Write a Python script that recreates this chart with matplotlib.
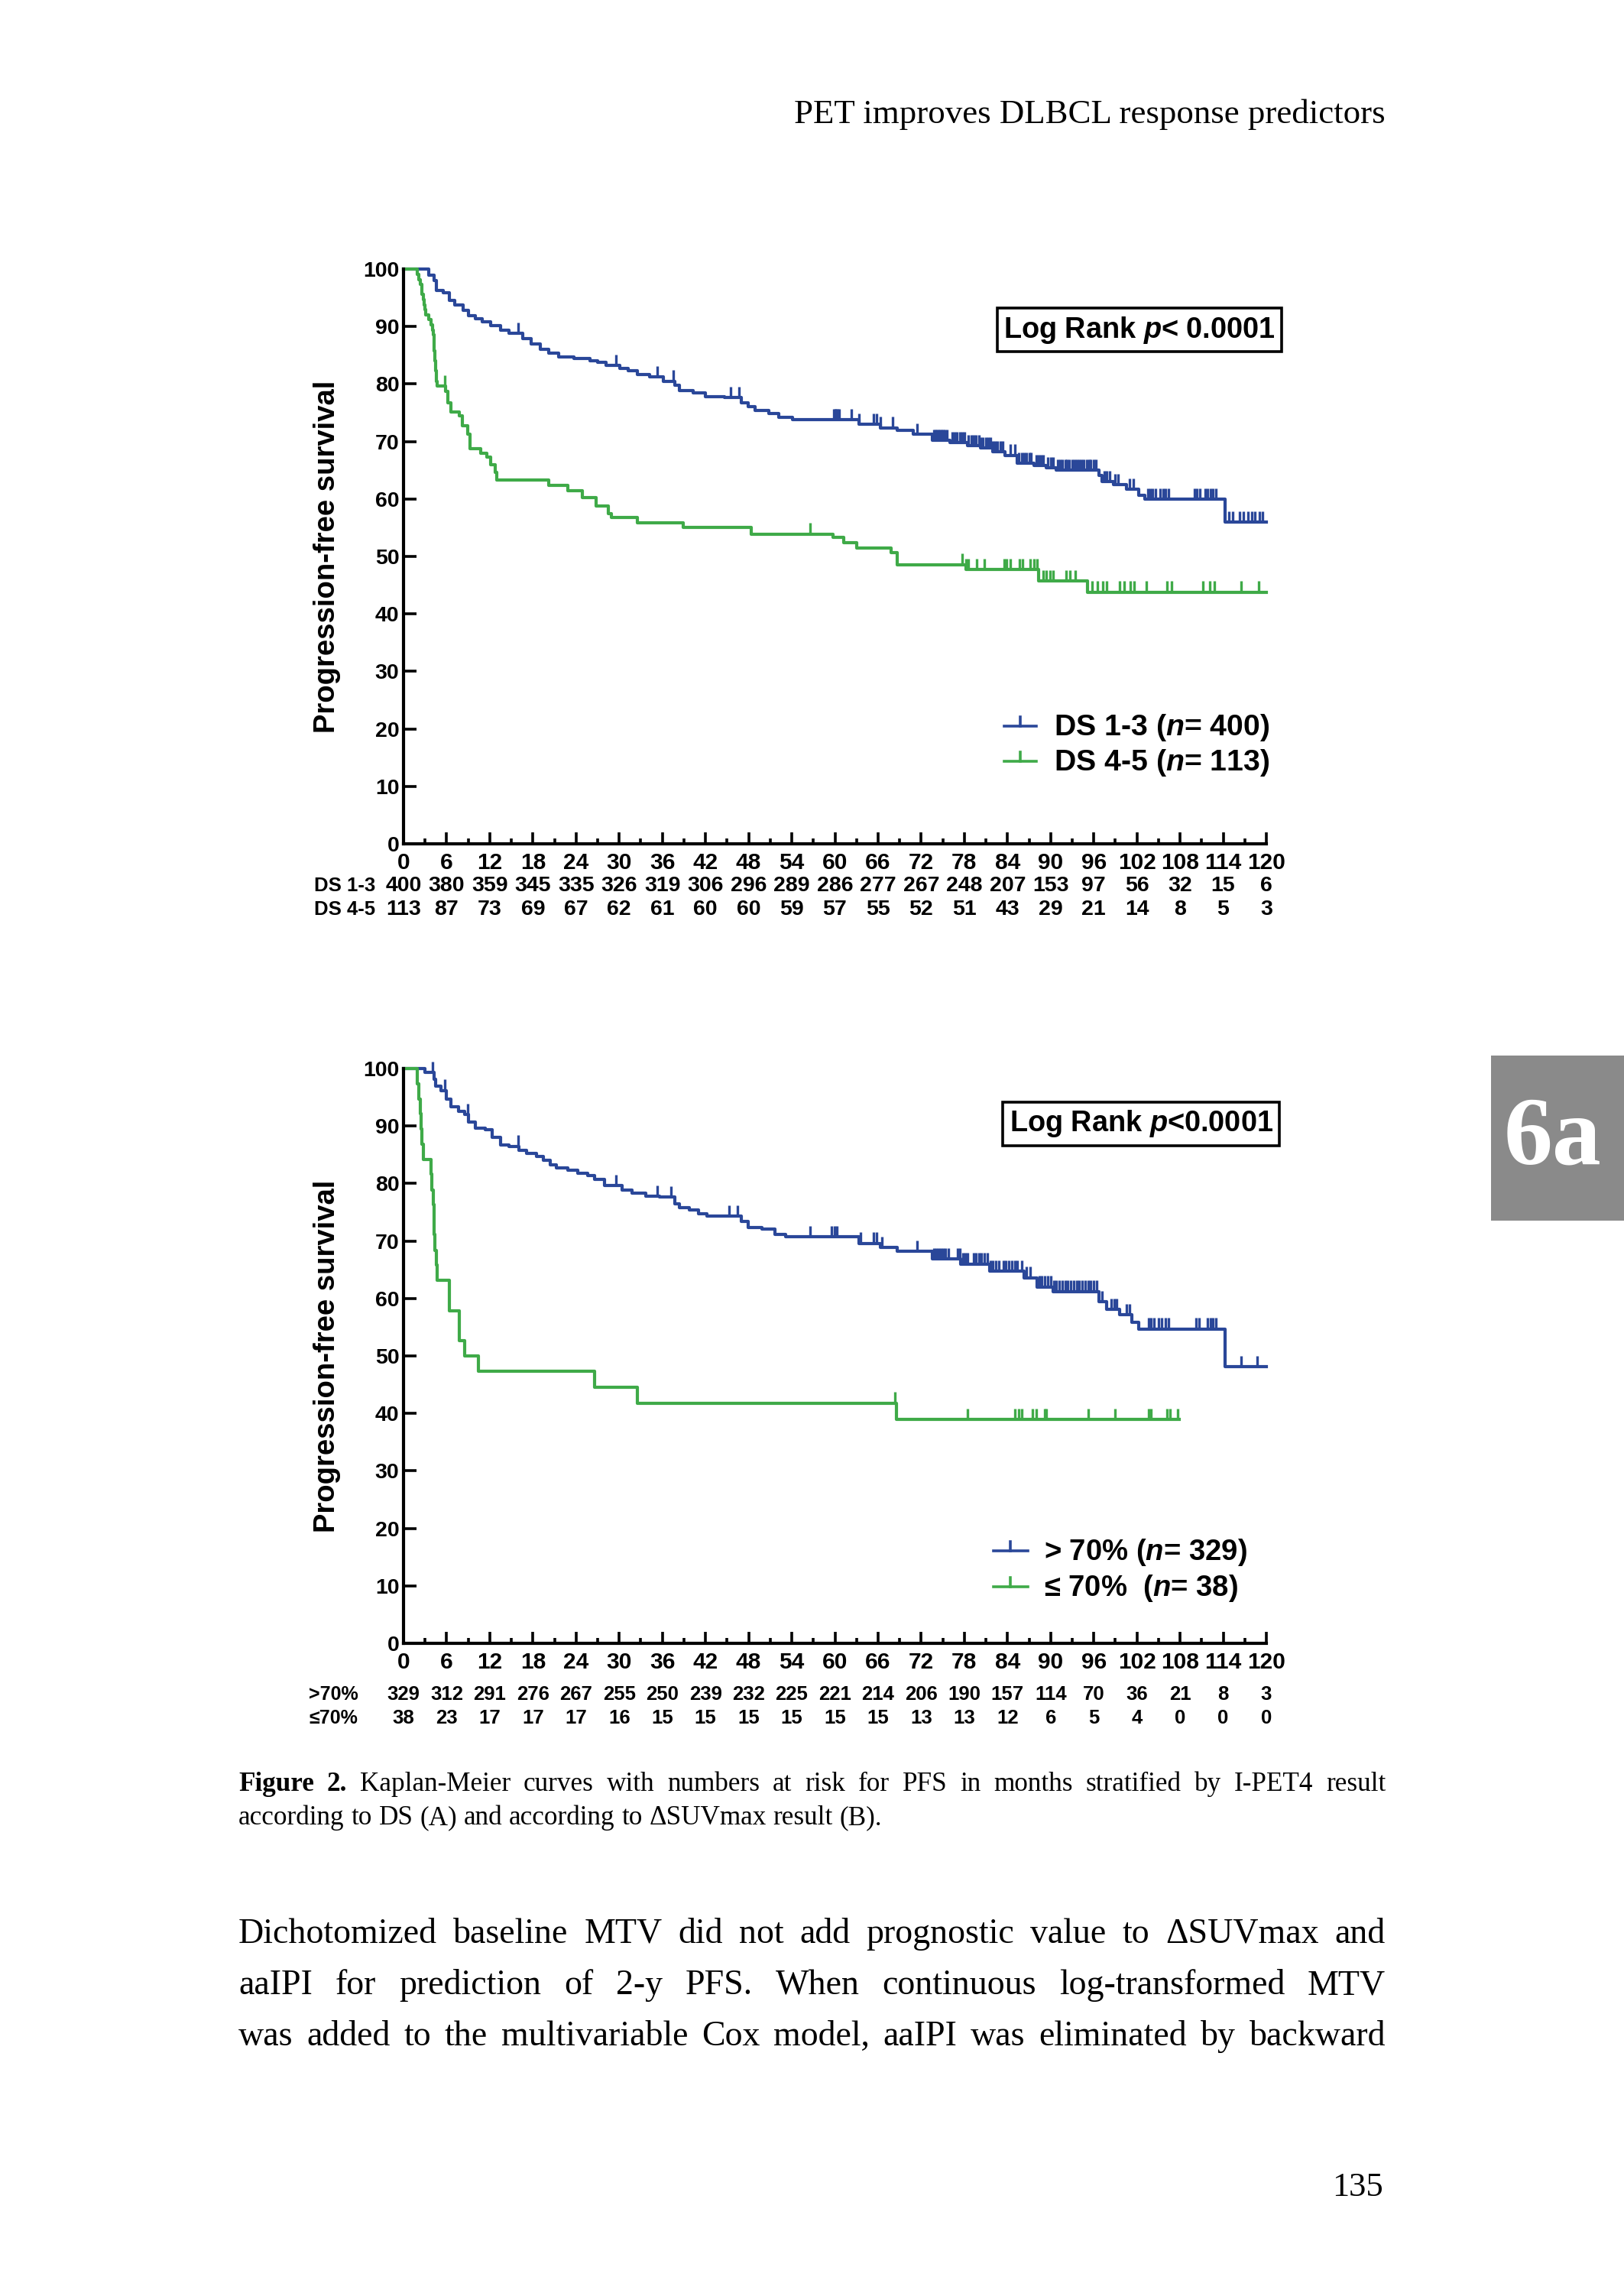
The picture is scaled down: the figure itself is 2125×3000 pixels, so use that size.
import numpy as np
import matplotlib
matplotlib.use('Agg')
import matplotlib.pyplot as plt
from matplotlib.lines import Line2D
from matplotlib.legend_handler import HandlerBase
from matplotlib.patches import Rectangle
from matplotlib import font_manager
import matplotlib.transforms as mtransforms

# ---------------------------------------------------------------- data
months = [0, 6, 12, 18, 24, 30, 36, 42, 48, 54, 60, 66, 72, 78, 84, 90, 96, 102, 108, 114, 120]
minor_months = [3, 9, 15, 21, 27, 33, 39, 45, 51, 57, 63, 69, 75, 81, 87, 93, 99, 105, 111, 117]
y_ticks = [0, 10, 20, 30, 40, 50, 60, 70, 80, 90, 100]

# numbers at risk
risk_ds13 = [400, 380, 359, 345, 335, 326, 319, 306, 296, 289, 286, 277, 267, 248, 207, 153, 97, 56, 32, 15, 6]
risk_ds45 = [113, 87, 73, 69, 67, 62, 61, 60, 60, 59, 57, 55, 52, 51, 43, 29, 21, 14, 8, 5, 3]
risk_gt70 = [329, 312, 291, 276, 267, 255, 250, 239, 232, 225, 221, 214, 206, 190, 157, 114, 70, 36, 21, 8, 3]
risk_le70 = [38, 23, 17, 17, 17, 16, 15, 15, 15, 15, 15, 15, 13, 13, 12, 6, 5, 4, 0, 0, 0]

# Panel A - DS 1-3 (steps: time, survival after step)
ds13_t = [0, 3.5, 4.3, 4.6, 5.5, 6.4, 7.1, 8.3, 9.0, 10.0, 10.9, 12.1, 13.5, 14.7, 16.6, 17.8, 19.0, 20.2,
          21.6, 23.7, 25.9, 27.0, 28.2, 30.1, 31.3, 32.5, 34.2, 36.1, 37.7, 38.4, 40.3, 42.0, 44.6, 47.0,
          47.9, 48.9, 50.8, 52.2, 54.1, 63.4, 66.3, 68.7, 70.9, 73.5, 76.0, 78.4, 80.2, 81.9, 83.7, 85.4,
          87.7, 89.4, 90.8, 96.7, 97.1, 98.7, 100.5, 102.2, 103.1, 114.3]
ds13_s = [100, 99.0, 98.0, 96.3, 95.9, 94.6, 93.7, 92.8, 91.9, 91.3, 90.8, 90.1, 89.4, 88.8, 87.9, 87.0, 86.1,
          85.4, 84.7, 84.4, 84.1, 83.8, 83.2, 82.7, 82.3, 81.7, 81.2, 80.5, 79.8, 78.9, 78.5, 77.8, 77.6,
          76.7, 76.0, 75.4, 74.9, 74.2, 73.8, 73.0, 72.4, 71.9, 71.3, 70.2, 69.8, 69.3, 68.9, 68.2, 67.6,
          66.2, 65.8, 65.4, 65.0, 64.1, 63.0, 62.5, 61.7, 60.6, 60.0, 56.0]
ds13_end = 120
ds13_cens = [15.9, 29.6, 35.3, 37.5, 45.5, 46.7, 59.8, 60.0, 60.2, 60.4, 60.6, 62.3, 63.4, 65.4, 65.8, 66.3,
             68.0, 71.4, 73.8, 74.0, 74.2, 74.4, 74.6, 74.8, 75.0, 75.3, 75.6, 76.3, 76.6, 77.0, 77.4, 77.7,
             78.0, 78.6, 79.0, 79.3, 79.6, 80.0, 80.3, 80.6, 81.0, 81.3, 81.6, 82.0, 82.3, 82.6, 83.0, 83.3,
             84.4, 85.0, 85.6, 86.0, 86.3, 86.6, 87.0, 87.3, 88.0, 88.3, 88.6, 89.0, 89.6, 90.0, 90.3, 91.0,
             91.3, 91.6, 92.0, 92.3, 92.6, 93.0, 93.3, 93.6, 94.0, 94.3, 94.6, 95.0, 95.3, 95.6, 96.0, 96.3,
             97.5, 97.8, 98.2, 99.0, 99.4, 101.0, 101.5, 103.5, 103.8, 104.2, 104.6, 105.2, 105.6, 106.0,
             106.4, 110.0, 110.3, 110.7, 111.5, 111.8, 112.2, 112.6, 113.0, 114.8, 115.3, 116.3, 116.8,
             117.4, 118.0, 118.4, 119.0, 119.5]

# Panel A - DS 4-5
ds45_t = [0, 1.9, 2.1, 2.3, 2.5, 2.6, 2.75, 2.9, 3.0, 3.1, 3.5, 3.8, 4.0, 4.1, 4.2, 4.25, 4.3, 4.35, 4.4,
          4.45, 4.5, 4.55, 4.6, 4.7, 5.8, 6.2, 6.6, 7.8, 8.2, 8.9, 9.2, 10.7, 11.6, 12.1, 12.8, 13.0, 20.2,
          22.8, 24.9, 26.8, 28.5, 28.9, 32.5, 38.9, 48.4, 59.7, 61.2, 63.0, 67.8, 68.7, 78.2, 88.3, 95.1]
ds45_s = [100, 99.1, 98.2, 97.3, 96.5, 95.6, 94.7, 93.8, 92.9, 92.0, 91.2, 90.3, 89.4, 88.5, 87.6, 86.7,
          85.8, 85.0, 84.1, 83.2, 82.3, 81.4, 80.5, 79.6, 78.7, 76.7, 75.1, 74.5, 72.7, 71.3, 68.7, 68.0,
          67.3, 66.0, 64.6, 63.3, 62.4, 61.5, 60.2, 58.8, 57.5, 56.8, 55.9, 55.0, 53.9, 53.3, 52.4, 51.5,
          50.6, 48.6, 47.7, 45.7, 43.8]
ds45_end = 120
ds45_cens = [5.7, 56.5, 77.7, 78.2, 78.5, 79.7, 80.8, 83.5, 83.9, 84.4, 85.7, 86.1, 87.2, 87.7, 88.1, 89.0,
             89.4, 89.9, 90.3, 92.1, 92.7, 93.4, 95.8, 96.5, 97.3, 97.8, 99.6, 100.2, 101.1, 101.6, 103.3,
             106.2, 106.8, 111.2, 112.1, 112.8, 116.5, 118.9]

# Panel B - dSUVmax > 70%
gt70_t = [0, 3.0, 4.2, 4.5, 5.2, 5.9, 6.6, 7.6, 8.5, 9.0, 10.0, 11.4, 12.3, 13.5, 14.7, 16.1, 17.1, 18.5,
          19.5, 20.4, 21.3, 22.8, 24.2, 25.6, 26.6, 28.0, 30.4, 31.8, 33.7, 35.6, 37.7, 38.4, 39.8, 41.0,
          42.2, 47.0, 47.9, 49.8, 51.7, 53.1, 63.4, 66.3, 68.7, 73.6, 77.5, 81.5, 86.3, 88.1, 90.3, 96.7,
          97.8, 99.6, 101.3, 102.2, 114.3]
gt70_s = [100, 99.3, 98.2, 96.9, 96.2, 94.7, 93.4, 92.5, 92.0, 90.7, 89.6, 89.4, 88.0, 86.7, 86.5, 85.8,
          85.2, 84.7, 84.0, 83.2, 82.7, 82.3, 81.8, 81.4, 80.7, 79.6, 78.9, 78.3, 77.8, 77.6, 76.5, 75.8,
          75.4, 74.7, 74.3, 73.4, 72.3, 72.1, 71.2, 70.7, 69.6, 68.9, 68.2, 66.9, 66.0, 64.7, 63.6, 62.0,
          61.2, 59.4, 58.1, 57.2, 55.9, 54.7, 48.1]
gt70_end = 120
gt70_cens = [4.0, 5.7, 8.9, 15.9, 29.6, 35.3, 37.2, 45.3, 46.5, 56.5, 59.5, 59.9, 60.3, 63.6, 65.4, 65.8,
             66.5, 71.4, 73.8, 74.1, 74.4, 74.7, 75.0, 75.4, 75.8, 77.1, 77.4, 77.8, 78.1, 78.4, 79.3, 79.6,
             80.0, 80.4, 80.8, 81.2, 81.6, 82.0, 82.4, 82.8, 83.4, 83.8, 84.2, 84.6, 85.0, 85.4, 86.0, 86.6,
             87.2, 88.4, 88.8, 89.2, 89.6, 90.0, 90.4, 90.8, 91.2, 91.6, 92.0, 92.4, 92.8, 93.2, 93.6, 94.0,
             94.4, 94.8, 95.2, 95.6, 96.0, 96.4, 97.2, 98.4, 98.8, 99.2, 100.6, 101.0, 103.6, 104.0, 104.4,
             105.0, 105.4, 106.0, 106.4, 110.2, 110.6, 111.8, 112.2, 112.6, 113.0, 116.5, 118.7]

# Panel B - dSUVmax <= 70%
le70_t = [0, 1.9, 2.1, 2.3, 2.45, 2.6, 2.8, 3.8, 3.95, 4.1, 4.2, 4.3, 4.4, 4.55, 4.7, 6.4, 7.8, 8.5, 10.4,
          26.6, 32.5, 68.6]
le70_s = [100, 97.4, 94.7, 92.1, 89.5, 86.8, 84.2, 81.6, 78.9, 76.3, 73.7, 71.1, 68.4, 65.8, 63.2, 57.9,
          52.6, 50.0, 47.4, 44.6, 41.8, 38.9]
le70_end = 107.9
le70_cens = [68.3, 78.4, 85.0, 85.6, 86.0, 87.5, 88.0, 89.2, 89.4, 95.2, 99.0, 103.6, 103.9, 106.2, 106.6, 107.7]

# ---------------------------------------------------------------- style
W, H, DPI = 2125, 3000, 100
BLUE = '#2a4799'
GREEN = '#3faa48'
SANS = ['Liberation Sans', 'DejaVu Sans']
SERIF = ['Liberation Serif', 'DejaVu Serif']
try:
    font_manager.findfont('Liberation Sans Narrow', fallback_to_default=False)
    NARROW = ['Liberation Sans Narrow', 'Liberation Sans', 'DejaVu Sans']
    HAVE_NARROW = True
except Exception:
    NARROW = SANS
    HAVE_NARROW = False

plt.rcParams['font.family'] = SANS
plt.rcParams['mathtext.fontset'] = 'custom'
plt.rcParams['mathtext.rm'] = 'Liberation Sans:bold'
plt.rcParams['mathtext.it'] = 'Liberation Sans:italic:bold'
plt.rcParams['mathtext.bf'] = 'Liberation Sans:bold'

TICK_X = 23 if HAVE_NARROW else 21.5
TICK_Y = 22 if HAVE_NARROW else 20.5
RISK_A = 23 if HAVE_NARROW else 20.5
RISK_B = 20 if HAVE_NARROW else 18.5

fig = plt.figure(figsize=(W / DPI, H / DPI), dpi=DPI)
fig.patch.set_facecolor('white')


class HandlerCensor(HandlerBase):
    def create_artists(self, legend, orig_handle, xdescent, ydescent, width, height, fontsize, trans):
        c = orig_handle.get_color()
        y0 = -ydescent + height * 0.45
        h = Line2D([-xdescent, -xdescent + width], [y0, y0], color=c, lw=2.6, transform=trans)
        v = Line2D([-xdescent + width / 2] * 2, [y0, y0 + height * 0.45], color=c, lw=2.6, transform=trans)
        return [h, v]


def draw_km(ax, t, s, t_end, cens, color):
    t = np.asarray(t, float)
    s = np.asarray(s, float)
    tt = np.append(t, t_end)
    ss = np.append(s, s[-1])
    ax.step(tt, ss, where='post', color=color, lw=3.0, clip_on=False)
    cens = np.asarray(cens, float)
    idx = np.searchsorted(t, cens, side='right') - 1
    sc = s[idx]
    ax.vlines(cens, sc, sc + 1.9, colors=color, lw=2.4, clip_on=False)


def style_axes(ax):
    ax.set_xlim(0, 120)
    ax.set_ylim(0, 100)
    for sp in ['top', 'right']:
        ax.spines[sp].set_visible(False)
    for sp in ['left', 'bottom']:
        ax.spines[sp].set_linewidth(3)
    ax.set_xticks(months)
    ax.set_xticks(minor_months, minor=True)
    ax.set_yticks(y_ticks)
    ax.tick_params(axis='x', which='major', direction='in', length=11, width=2.6, labelsize=TICK_X, pad=8)
    ax.tick_params(axis='x', which='minor', direction='in', length=5, width=2.6)
    ax.tick_params(axis='y', which='major', direction='in', length=12, width=2.6, labelsize=TICK_Y, pad=4)
    for lab in ax.get_xticklabels() + ax.get_yticklabels():
        lab.set_fontweight('bold')
        lab.set_family(NARROW)
    ax.set_ylabel('Progression-free survival', fontsize=27.5, fontweight='bold')
    ax.yaxis.label.set_va('center')
    ax.yaxis.set_label_coords(-0.089, 0.5)


def risk_table(ax, rows, ys, labels, label_x, size, label_size):
    tr = mtransforms.blended_transform_factory(fig.transFigure, ax.transAxes)
    for vals, y, lab in zip(rows, ys, labels):
        for m, n in zip(months, vals):
            ax.text(m, y, str(n), transform=ax.get_xaxis_transform(), ha='center', va='center',
                    fontsize=size, fontweight='bold', family=NARROW)
        ax.text(label_x, y, lab, transform=tr, ha='left', va='center', fontsize=label_size,
                fontweight='bold', family=NARROW)


# ---------------------------------------------------------------- panel A
ax1 = fig.add_axes([528 / W, 1 - 1104 / H, 1129 / W, 752 / H])
style_axes(ax1)
draw_km(ax1, ds13_t, ds13_s, ds13_end, ds13_cens, BLUE)
draw_km(ax1, ds45_t, ds45_s, ds45_end, ds45_cens, GREEN)
ax1.text(0.853, 0.894, r'Log Rank $p$< 0.0001', transform=ax1.transAxes, ha='center', va='center',
         fontsize=27.3, fontweight='bold',
         bbox=dict(boxstyle='square,pad=0.22', fc='white', ec='black', lw=2.6))
h1 = [Line2D([], [], color=BLUE), Line2D([], [], color=GREEN)]
ax1.legend(h1, [r'DS 1-3 ($n$= 400)', r'DS 4-5 ($n$= 113)'], handler_map={Line2D: HandlerCensor()},
           loc='center right', bbox_to_anchor=(1.004, 0.171), frameon=False,
           prop={'family': SANS, 'weight': 'bold', 'size': 28.3}, handlelength=1.05, handletextpad=0.6,
           labelspacing=0.15, borderpad=0, borderaxespad=0)
risk_table(ax1, [risk_ds13, risk_ds45], [-0.0735, -0.1150], ['DS 1-3', 'DS 4-5'], 411 / W, RISK_A, 18.5)

# ---------------------------------------------------------------- panel B
ax2 = fig.add_axes([528 / W, 1 - 2150 / H, 1129 / W, 752 / H])
style_axes(ax2)
draw_km(ax2, gt70_t, gt70_s, gt70_end, gt70_cens, BLUE)
draw_km(ax2, le70_t, le70_s, le70_end, le70_cens, GREEN)
ax2.text(0.855, 0.904, r'Log Rank $p$<0.0001', transform=ax2.transAxes, ha='center', va='center',
         fontsize=27.3, fontweight='bold',
         bbox=dict(boxstyle='square,pad=0.22', fc='white', ec='black', lw=2.6))
h2 = [Line2D([], [], color=BLUE), Line2D([], [], color=GREEN)]
ax2.legend(h2, [r'> 70% ($n$= 329)', r'≤ 70%  ($n$= 38)'], handler_map={Line2D: HandlerCensor()},
           loc='center right', bbox_to_anchor=(0.978, 0.127), frameon=False,
           prop={'family': SANS, 'weight': 'bold', 'size': 27.5}, handlelength=1.2, handletextpad=0.55,
           labelspacing=0.17, borderpad=0, borderaxespad=0)
risk_table(ax2, [risk_gt70, risk_le70], [-0.0890, -0.1300], ['>70%', '≤70%'], 404 / W, RISK_B, 18)

# ---------------------------------------------------------------- page text
renderer = fig.canvas.get_renderer()


def justify(words, y_px, size, x0_px=312, x1_px=1813, last=False, bold_n=0):
    texts = []
    for i, w in enumerate(words):
        t = fig.text(0, 1 - y_px / H, w, fontsize=size, family=SERIF, va='baseline', ha='left',
                     fontweight='bold' if i < bold_n else 'normal')
        texts.append(t)
    widths = [t.get_window_extent(renderer).width for t in texts]
    if last:
        gap = 0.25 * size * DPI / 72
    else:
        gap = (x1_px - x0_px - sum(widths)) / (len(words) - 1)
    x = x0_px
    for t, w in zip(texts, widths):
        t.set_x(x / W)
        x += w + gap


fig.text(1813 / W, 1 - 161 / H, 'PET improves DLBCL response predictors', fontsize=32.3, family=SERIF,
         ha='right', va='baseline')

cap1 = 'Figure 2. Kaplan-Meier curves with numbers at risk for PFS in months stratified by I-PET4 result'
cap2 = 'according to DS (A) and according to ΔSUVmax result (B).'
justify(cap1.split(), 2343, 25.3, bold_n=2)
justify(cap2.split(), 2387, 25.3, last=True)

body = ['Dichotomized baseline MTV did not add prognostic value to ΔSUVmax and',
        'aaIPI for prediction of 2-y PFS. When continuous log-transformed MTV',
        'was added to the multivariable Cox model, aaIPI was eliminated by backward']
for line, y in zip(body, [2542, 2609, 2676]):
    justify(line.split(), y, 33)

fig.text(1810 / W, 1 - 2873 / H, '135', fontsize=32, family=SERIF, ha='right', va='baseline')

fig.patches.append(Rectangle((1951 / W, 1 - 1597 / H), 174 / W, 216 / H, transform=fig.transFigure,
                             facecolor='#8a8a8a', edgecolor='none'))
fig.text(2031 / W, 1 - 1492 / H, '6a', fontsize=92, family=SERIF, fontweight='bold', color='white',
         ha='center', va='center')

fig.savefig('out.png', dpi=DPI, facecolor='white')
